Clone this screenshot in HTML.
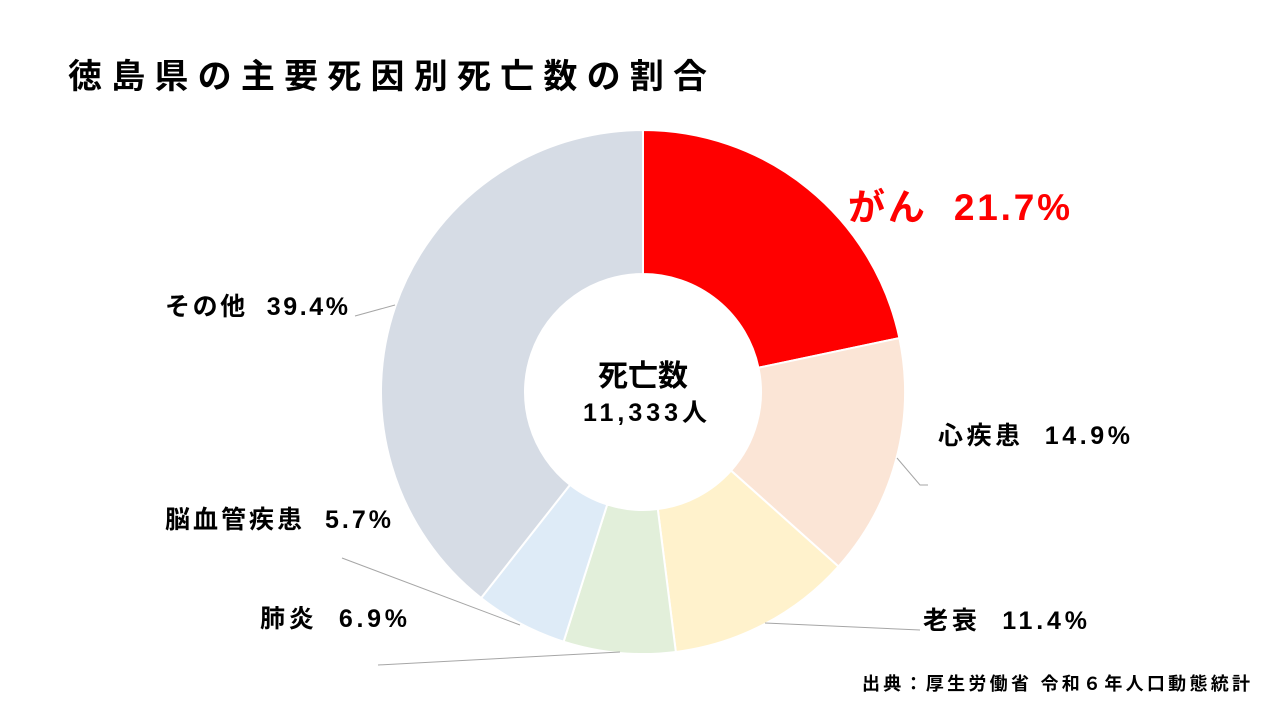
<!DOCTYPE html>
<html><head><meta charset="utf-8"><style>
body{margin:0;width:1280px;height:720px;background:#fff;overflow:hidden;font-family:"Liberation Sans","Noto Sans CJK JP",sans-serif}
</style></head><body>
<svg id="s" width="1280" height="720" xmlns="http://www.w3.org/2000/svg" style="position:absolute;left:0;top:0">
<text x="68" y="88" font-size="34" font-weight="bold" textLength="639" fill="#000" font-family="Liberation Sans,Noto Sans CJK JP,sans-serif">徳島県の主要死因別死亡数の割合</text>
<g id="pie"></g>
<g stroke="#A6A6A6" stroke-width="1" fill="none">
<polyline points="355,316 395,305"/>
<polyline points="897,458 920,485 928,485"/>
<polyline points="765,623 920,630"/>
<polyline points="342,558 520,625"/>
<polyline points="378,665 620,652"/>
</g>
<g font-family="Liberation Sans,Noto Sans CJK JP,sans-serif" font-weight="bold" fill="#000">
<text x="848" y="220" font-size="37" fill="#FF0000" textLength="222" xml:space="preserve">がん  21.7%</text>
<text x="165" y="315" font-size="25" textLength="183" xml:space="preserve">その他  39.4%</text>
<text x="938" y="444" font-size="25" textLength="192" xml:space="preserve">心疾患  14.9%</text>
<text x="923" y="629" font-size="25" textLength="164" xml:space="preserve">老衰  11.4%</text>
<text x="165" y="528" font-size="25" textLength="226" xml:space="preserve">脳血管疾患  5.7%</text>
<text x="260" y="627" font-size="25" textLength="147" xml:space="preserve">肺炎  6.9%</text>
<text x="643" y="386" font-size="30" text-anchor="middle">死亡数</text>
<text x="583" y="421" font-size="25" textLength="124">11,333人</text>
<text x="862" y="690" font-size="18" textLength="388">出典：厚生労働省 令和６年人口動態統計</text>
</g>
</svg>
<script>
var cx=643,cy=392,R=262,r=118;
var d=[[21.7,"#FF0000"],[14.9,"#FBE5D6"],[11.4,"#FFF2CC"],[6.9,"#E2EFDA"],[5.7,"#DEEBF7"],[39.4,"#D6DCE5"]];
var a=0,h="";
function p(rad,ang){return (cx+rad*Math.sin(ang)).toFixed(2)+","+(cy-rad*Math.cos(ang)).toFixed(2)}
d.forEach(function(x){var a0=a/100*2*Math.PI;a+=x[0];var a1=a/100*2*Math.PI;var l=(a1-a0)>Math.PI?1:0;
h+='<path d="M'+p(R,a0)+' A'+R+','+R+' 0 '+l+' 1 '+p(R,a1)+' L'+p(r,a1)+' A'+r+','+r+' 0 '+l+' 0 '+p(r,a0)+' Z" fill="'+x[1]+'" stroke="#fff" stroke-width="2"/>';});
document.getElementById("pie").innerHTML=h;
</script>
</body></html>
